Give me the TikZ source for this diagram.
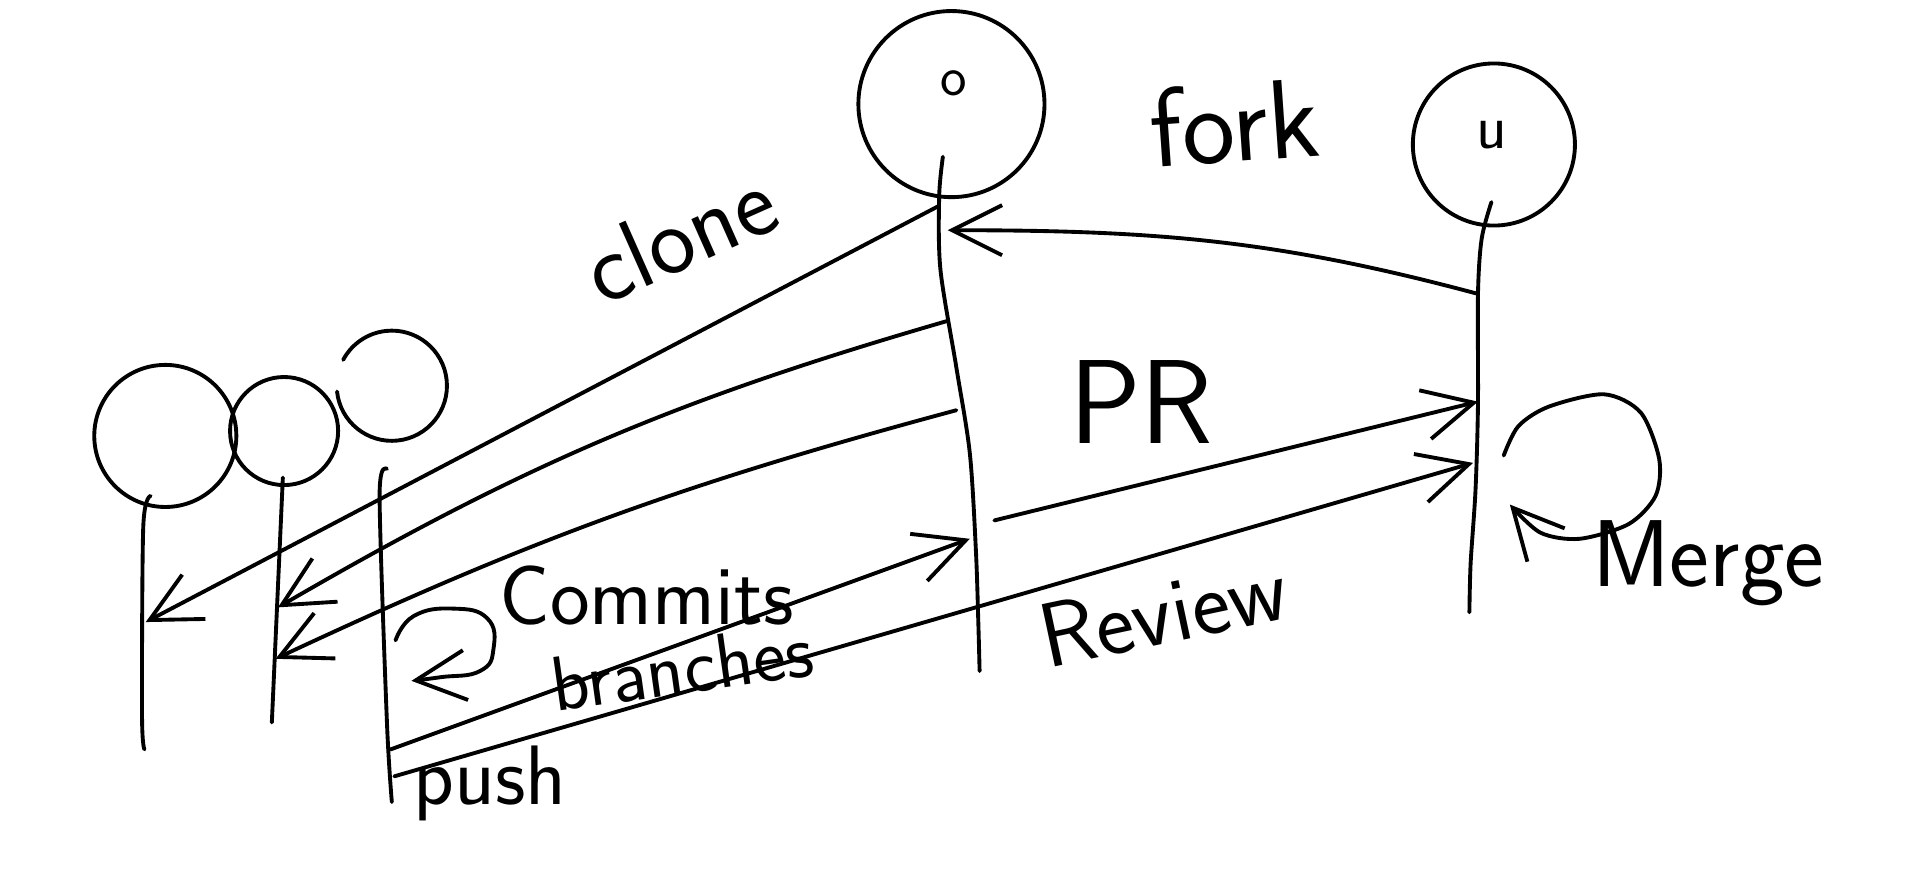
\documentclass[tikz,border=0pt]{standalone}
\usepackage{tikz}
\usetikzlibrary{arrows.meta}

\begin{document}
\begin{tikzpicture}[x=0.012245cm, y=0.012245cm, line width=1.1pt, line cap=round, line join=round,
    actor/.style={draw, circle, inner sep=0pt},
    lbl/.style={font=\sffamily\fontsize{#1}{#1}\selectfont, inner sep=0pt},
    flow/.style={-{Straight Barb[length=5mm, width=5mm]}}]
    \fill[white] (0,0) rectangle (1568,-715);
    \useasboundingbox (0,0) rectangle (1568,-715);

    % people and repos
    \node[actor, minimum size=1.42cm] (dev1) at (135,-356) {};
    \node[actor, minimum size=1.08cm] (dev2) at (232,-352) {};
    \coordinate (dev3) at (320,-315);
    \draw ([shift={(186:45)}]dev3) arc[start angle=186, end angle=512, radius=45];
    \node[actor, minimum size=1.86cm] (orig) at (777,-85) {};
    \node[lbl=16] (origtxt) at (779,-68) {o};
    \node[actor, minimum size=1.62cm] (upst) at (1220,-118) {};
    \node[lbl=18] (upsttxt) at (1218,-110) {u};

    % lifelines
    \coordinate (d1top) at (123,-405); \coordinate (d1bot) at (118,-612);
    \coordinate (d2top) at (231,-390); \coordinate (d2bot) at (222,-590);
    \coordinate (d3top) at (316,-383); \coordinate (d3bot) at (320,-655);
    \coordinate (otop) at (770,-128);  \coordinate (obot) at (800,-548);
    \coordinate (utop) at (1218,-165); \coordinate (ubot) at (1200,-500);
    \draw plot[smooth] coordinates {(d1top) (117,-430) (116,-585) (d1bot)};
    \draw (d2top) -- (d2bot);
    \draw plot[smooth] coordinates {(d3top) (310,-405) (316,-590) (d3bot)};
    \draw plot[smooth] coordinates {(otop) (767,-160) (768,-220) (781,-300) (792,-370) (797,-450) (799,-510) (obot)};
    \draw plot[smooth] coordinates {(utop) (1210,-195) (1207,-240) (1207,-330) (1205,-400) (1201,-460) (ubot)};

    % fork
    \coordinate (ufk) at (1207,-240);
    \coordinate (ofk) at (774,-188);
    \draw[flow] (ufk) to[out=165, in=0] (ofk);

    % clone
    \coordinate (oc1) at (767,-168);
    \coordinate (oc2) at (774,-262);
    \coordinate (oc3) at (781,-335);
    \coordinate (d1c) at (119,-508);
    \coordinate (d2c) at (227,-496);
    \coordinate (d2d) at (225,-538);
    \draw[flow] (oc1) -- (d1c);
    \draw[flow] (oc2) to[bend right=7] (d2c);
    \draw[flow] (oc3) to[bend right=5] (d2d);

    % commits on a branch
    \coordinate (cm1) at (323,-523);
    \coordinate (cm2) at (336,-556);
    \draw[flow] plot[smooth, tension=0.8] coordinates {(cm1) (338,-503) (370,-497) (398,-505) (403,-530) (392,-548) (360,-553) (cm2)};

    % push, PR, review
    \coordinate (d3p) at (319,-612);
    \coordinate (opush) at (792,-440);
    \coordinate (d3r) at (322,-634);
    \coordinate (urev) at (1203,-378);
    \coordinate (opr) at (812,-425);
    \coordinate (upr) at (1207,-328);
    \draw[flow] (d3p) -- (opush);
    \draw[flow] (d3r) -- (urev);
    \draw[flow] (opr) -- (upr);

    % merge
    \coordinate (mg1) at (1228,-372);
    \coordinate (mg2) at (1233,-412);
    \draw[flow] plot[smooth] coordinates {(mg1) (1240,-348) (1265,-332) (1310,-322) (1340,-337) (1355,-375) (1352,-405) (1330,-428) (1290,-440) (1258,-435) (mg2)};

    \node[lbl=28, rotate=24] (clonetxt) at (555,-192) {clone};
    \node[lbl=32, rotate=4] (forktxt) at (1008,-100) {fork};
    \node[lbl=34] (prtxt) at (932,-328) {PR};
    \node[lbl=24] (committxt) at (528,-486) {Commits};
    \node[lbl=22, rotate=8] (branchtxt) at (557,-545) {branches};
    \node[lbl=24] (pushtxt) at (400,-640) {push};
    \node[lbl=26, rotate=12] (reviewtxt) at (950,-500) {Review};
    \node[lbl=27] (mergetxt) at (1395,-460) {Merge};
\end{tikzpicture}
\end{document}
